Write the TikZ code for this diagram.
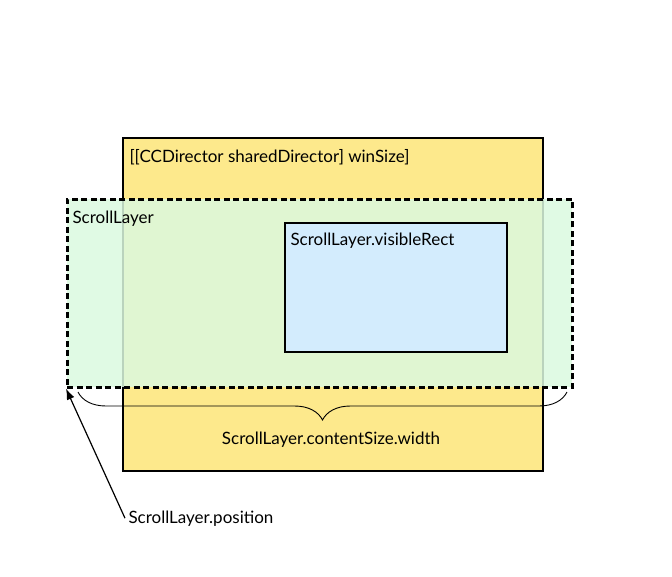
\documentclass[tikz,border=0pt]{standalone}
\usepackage{fontspec}
\setmainfont{Lato}
\usetikzlibrary{decorations.pathreplacing, arrows.meta}
\definecolor{winyellow}{RGB}{253,233,140}
\definecolor{layergreen}{RGB}{219,249,223}
\definecolor{rectblue}{RGB}{211,236,253}
\tikzset{
	winbox/.style={draw, line width=2pt, fill=winyellow, inner sep=0pt},
	layerbox/.style={draw, line width=2.6pt, dash pattern=on 6pt off 3.5pt, fill=layergreen, fill opacity=0.85, inner sep=0pt},
	rectbox/.style={draw, line width=2pt, fill=rectblue, inner sep=0pt},
	lbl/.style={anchor = base west, font=\fontsize{17}{20}\selectfont}
}
\begin{document}
\begin{tikzpicture}[x=1pt, y=-1pt]
		\useasboundingbox (0,0) rectangle (672,576);
		\node (win)[winbox, anchor = north west, minimum width=420pt, minimum height=333pt] at (122,137) {};
		\node (layer)[layerbox, anchor = north west, minimum width=505pt, minimum height=188pt] at (66,198) {};
		\node (visible)[rectbox, anchor = north west, minimum width=222pt, minimum height=129pt] at (284,222) {};
		%
		\node (wintext)[lbl] at (126,162) {[[CCDirector sharedDirector] winSize]};
		\node (layertext)[lbl] at (69,223) {ScrollLayer};
		\node (visibletext)[lbl] at (287,245) {ScrollLayer.visibleRect};
		%
		\coordinate (bl) at (78,392);
		\coordinate (br) at (567,392);
		\draw [line width=0.9pt, decorate, decoration={brace, mirror, amplitude=28pt}] (bl)--(br);
		\node (width)[lbl, anchor = base] at (331,444) {ScrollLayer.contentSize.width};
		%
		\node (position)[lbl] at (125,523) {ScrollLayer.position};
		\draw [-{Latex[length=11pt, width=8pt]}, line width=1.2pt] (position.west)--(layer.south west);
	\end{tikzpicture}
\end{document}
